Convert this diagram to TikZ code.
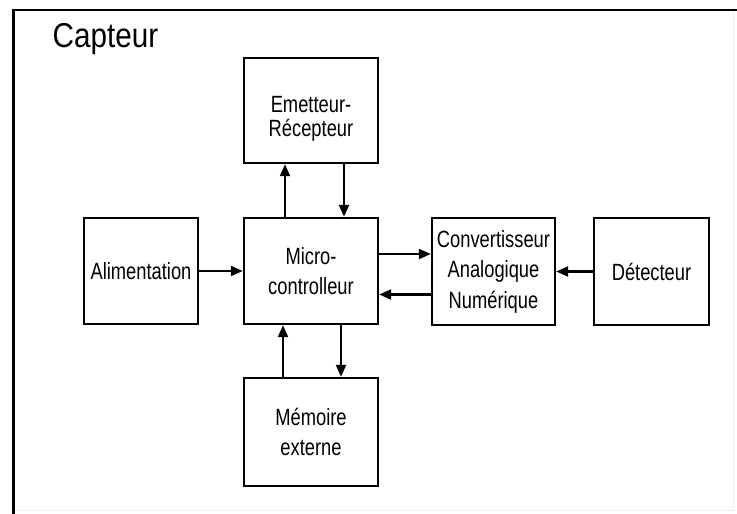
\documentclass[tikz,border=0pt]{standalone}
\usepackage{fontspec}
\setmainfont{Liberation Sans}[FakeStretch=0.78]
\newfontfamily\capfont{Liberation Sans}[FakeStretch=0.86]
\usetikzlibrary{arrows.meta}
\begin{document}
\begin{tikzpicture}[x=1pt,y=-1pt,
  blockbox/.style={draw=black,line width=2.4pt,rectangle,inner sep=0pt,align=center,
    font=\fontsize{23.5}{30.5}\selectfont},
  arr/.style={line width=2.2pt,-{Triangle[length=12pt,width=10pt]}}]
\useasboundingbox (0,0) rectangle (737,514);
\fill[white] (0,0) rectangle (737,514);
% outer frame
\draw[gray!12,line width=1pt] (733,10) -- (733,510) -- (13.5,510);
\draw[line width=2.6pt] (737,10) -- (13.5,10) -- (13.5,514);
\node[anchor=base west,inner sep=0pt,font=\capfont\fontsize{34.5}{40}\selectfont] (title) at (52.5,47.5) {Capteur};
% blocks
\node[blockbox,minimum width=134pt,minimum height=105pt] (emit) at (311,110.5) {\raisebox{-26pt}[0pt][0pt]{\shortstack{Emetteur-\\[3.5pt]Récepteur}}};
\node[blockbox,minimum width=134pt,minimum height=106pt] (micro) at (311,271) {Micro-\\controlleur};
\node[blockbox,minimum width=114pt,minimum height=106pt] (alim) at (141,271) {Alimentation};
\node[blockbox,minimum width=123pt,minimum height=107pt] (conv) at (493.5,271.5) {Convertisseur\\Analogique\\Numérique};
\node[blockbox,minimum width=115pt,minimum height=107pt] (det) at (651.5,271.5) {Détecteur};
\node[blockbox,minimum width=134pt,minimum height=108pt] (mem) at (311,432) {Mémoire\\externe};
% connectors
\draw[arr] (alim.east) -- (micro.west);
\draw[arr] ([xshift=-26pt]micro.north) -- ([xshift=-26pt]emit.south);
\draw[arr] ([xshift=33pt]emit.south) -- ([xshift=33pt]micro.north);
\draw[arr] ([xshift=30pt]micro.south) -- ([xshift=30pt]mem.north);
\draw[arr] ([xshift=-28pt]mem.north) -- ([xshift=-28pt]micro.south);
\draw[arr] ([yshift=17pt]micro.east) -- ([yshift=17pt]micro.east -| conv.west);
\draw[arr] ([yshift=-23pt]conv.west) -- ([yshift=-23pt]conv.west -| micro.east);
\draw[arr] (det.west) -- (conv.east);
\end{tikzpicture}
\end{document}
